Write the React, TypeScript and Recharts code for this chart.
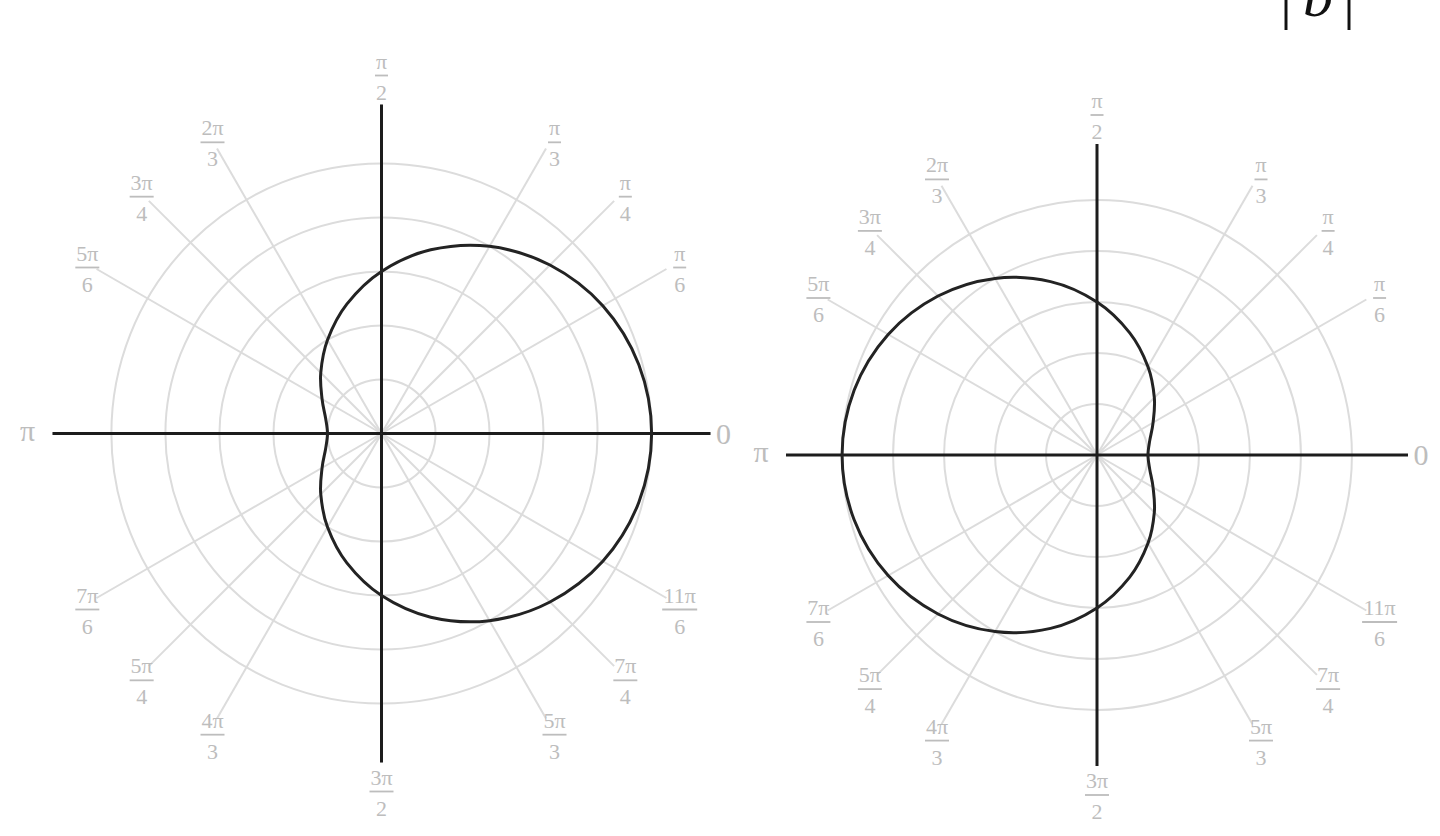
import { RadarChart, Radar, PolarGrid, PolarAngleAxis, PolarRadiusAxis } from 'recharts'

// sample angles (degrees) and radii
const ANGLES = [0, 15, 30, 45, 60, 75, 90, 105, 120, 135, 150, 165, 180, 195, 210, 225, 240, 255, 270, 285, 300, 315, 330, 345]
const LEFT_R = [5.0, 4.93, 4.73, 4.41, 4.0, 3.52, 3.0, 2.48, 2.0, 1.59, 1.27, 1.07, 1.0, 1.07, 1.27, 1.59, 2.0, 2.48, 3.0, 3.52, 4.0, 4.41, 4.73, 4.93]
const RIGHT_R = [1.0, 1.07, 1.27, 1.59, 2.0, 2.48, 3.0, 3.52, 4.0, 4.41, 4.73, 4.93, 5.0, 4.93, 4.73, 4.41, 4.0, 3.52, 3.0, 2.48, 2.0, 1.59, 1.27, 1.07]

const ANGLE_TICKS = [0, 30, 45, 60, 90, 120, 135, 150, 180, 210, 225, 240, 270, 300, 315, 330]
const TICK_NUM = ['0', 'π', 'π', 'π', 'π', '2π', '3π', '5π', 'π', '7π', '5π', '4π', '3π', '5π', '7π', '11π']
const TICK_DEN = ['', '6', '4', '3', '2', '3', '4', '6', '', '6', '4', '3', '2', '3', '4', '6']
const RING_TICKS = [1, 2, 3, 4, 5]
const AXIS_ANGLES = [0, 90, 180, 270]

const data = ANGLES.map((angle, i) => ({ angle, left: LEFT_R[i], right: RIGHT_R[i] }))

const SERIF = '"Liberation Serif", "DejaVu Serif", serif'
const LABEL = '#bdbdbd'

function FractionTick(props: any) {
  const { x, y, payload } = props
  const deg = Number(payload.value)
  const i = ANGLE_TICKS.indexOf(deg)
  if (i < 0) return null
  const rad = (deg * Math.PI) / 180
  const ux = Math.cos(rad)
  const uy = -Math.sin(rad)
  const num = TICK_NUM[i]
  const den = TICK_DEN[i]
  if (!den) {
    const gap = deg === 180 ? 24 : 12
    return (
      <text x={x + ux * gap} y={y + (num === 'π' ? 7 : 10)} textAnchor="middle" fontSize={30} fill={LABEL} fontFamily={SERIF}>
        {num}
      </text>
    )
  }
  const vertical = Math.abs(uy) > 0.99
  const gap = vertical ? 28 : 12
  const px = x + ux * gap + (vertical ? 0 : 2)
  const py = y + uy * gap + (vertical ? 0 : 5)
  const w = 2 + 11 * num.length
  return (
    <g>
      <text x={px} y={py - 7} textAnchor="middle" fontSize={22} fill={LABEL} fontFamily={SERIF}>{num}</text>
      <line x1={px - w / 2} x2={px + w / 2} y1={py} y2={py} stroke={LABEL} strokeWidth={1.8} />
      <text x={px} y={py + 24} textAnchor="middle" fontSize={22} fill={LABEL} fontFamily={SERIF}>{den}</text>
    </g>
  )
}

// closed catmull-rom through the radar points so the curve is smooth
function SmoothShape(props: any) {
  const pts = (props.points || []) as { x: number; y: number }[]
  const n = pts.length
  if (!n) return null
  let d = `M${pts[0].x},${pts[0].y}`
  for (let i = 0; i < n; i++) {
    const p0 = pts[(i - 1 + n) % n]
    const p1 = pts[i]
    const p2 = pts[(i + 1) % n]
    const p3 = pts[(i + 2) % n]
    const c1x = p1.x + (p2.x - p0.x) / 6
    const c1y = p1.y + (p2.y - p0.y) / 6
    const c2x = p2.x - (p3.x - p1.x) / 6
    const c2y = p2.y - (p3.y - p1.y) / 6
    d += ` C${c1x},${c1y} ${c2x},${c2y} ${p2.x},${p2.y}`
  }
  return <path d={d + 'Z'} fill="none" stroke="#232323" strokeWidth={3} />
}

function PolarPlot(props: { dataKey: string; width: number; cx: number; cy: number; outer: number; rMax: number }) {
  const { dataKey, width, cx, cy, outer, rMax } = props
  return (
    <RadarChart
      width={width}
      height={836}
      data={data}
      cx={cx}
      cy={cy}
      outerRadius={outer}
      startAngle={0}
      endAngle={360}
      margin={{ top: 0, right: 0, bottom: 0, left: 0 }}
    >
      <PolarGrid gridType="circle" polarAngles={ANGLE_TICKS} stroke="#dcdcdc" strokeWidth={2} />
      <PolarGrid gridType="circle" polarAngles={AXIS_ANGLES} polarRadius={[]} stroke="#1c1c1c" strokeWidth={3} />
      <PolarAngleAxis
        dataKey="angle"
        type="number"
        domain={[0, 360]}
        ticks={ANGLE_TICKS}
        tick={<FractionTick />}
        tickSize={1}
        axisLine={false}
        tickLine={false}
      />
      <PolarRadiusAxis type="number" domain={[0, rMax]} ticks={RING_TICKS} tick={false} axisLine={false} />
      <Radar dataKey={dataKey} isAnimationActive={false} fill="none" stroke="#232323" strokeWidth={3} dot={false} shape={SmoothShape} />
    </RadarChart>
  )
}

export default function App() {
  return (
    <div style={{ position: 'absolute', left: 0, top: 0, width: 1440, height: 836, background: '#fff', overflow: 'hidden' }}>
      <div style={{ position: 'absolute', left: 0, top: 0 }}>
        <PolarPlot dataKey="left" width={750} cx={381.5} cy={433.5} outer={329} rMax={6.09} />
      </div>
      <div style={{ position: 'absolute', left: 740, top: 0 }}>
        <PolarPlot dataKey="right" width={700} cx={357} cy={455} outer={311} rMax={6.1} />
      </div>
      <svg width={1440} height={60} style={{ position: 'absolute', left: 0, top: 0 }}>
        <text x={1286} y={17} fontSize={60} textAnchor="middle" fontFamily={SERIF} fill="#111">|</text>
        <text x={1318} y={16} fontSize={60} textAnchor="middle" fontStyle="italic" fontFamily={SERIF} fill="#111">b</text>
        <text x={1349} y={17} fontSize={60} textAnchor="middle" fontFamily={SERIF} fill="#111">|</text>
      </svg>
    </div>
  )
}
